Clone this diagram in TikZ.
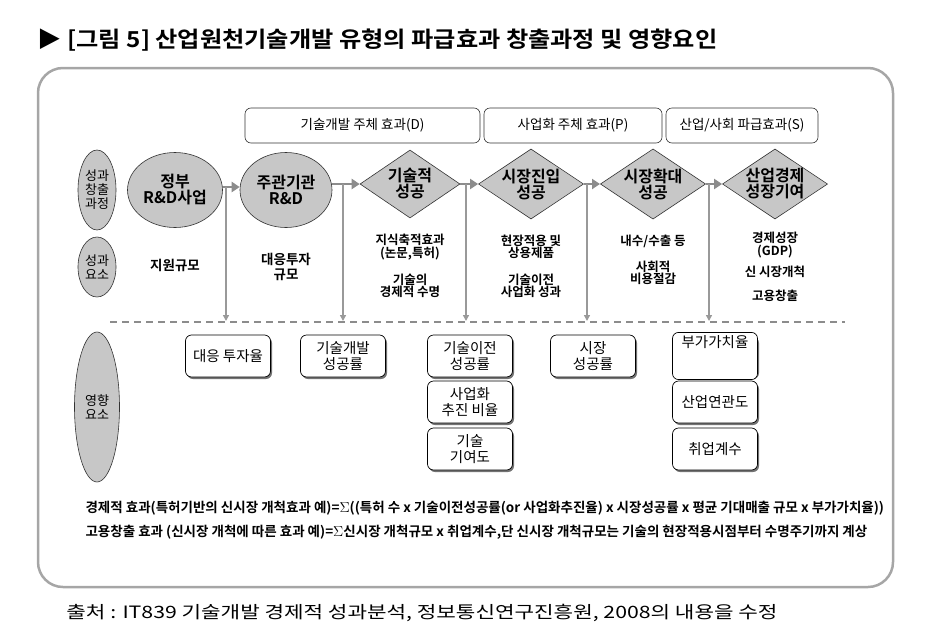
\documentclass[tikz,border=0pt]{standalone}
\usepackage{fontspec}
\setmainfont{Noto Sans CJK KR}
\newfontfamily\kb{Noto Sans CJK KR Bold}
\usetikzlibrary{shapes.geometric,arrows.meta}
\tikzset{
 gshape/.style={draw=black!80,fill=black!22,line width=0.6pt,align=center,font=\kb\fontsize{16}{16}\selectfont,inner sep=0pt},
 ell/.style={gshape,ellipse},
 dia/.style={gshape,diamond,aspect=1.5},
 hdr/.style={draw=black!80,rounded corners=6pt,line width=0.6pt,font=\fontsize{13.5}{13.5}\selectfont,minimum height=35pt},
 ibox/.style={draw=black,rounded corners=6pt,line width=0.7pt,fill=white,minimum width=85pt,minimum height=42pt,align=center,font=\fontsize{14.5}{15.5}\selectfont},
 shad/.style={fill=black!55,rounded corners=6pt,minimum width=85pt,minimum height=42pt},
 el/.style={font=\kb\fontsize{12.5}{12.5}\selectfont,align=center},
 garr/.style={draw=black!45,line width=2.2pt,-{Triangle[length=8pt,width=10pt]}},
 varr/.style={draw=black!40,line width=1.4pt,-{Triangle[length=6pt,width=6pt]}},
}
\begin{document}
\begin{tikzpicture}[x=1pt,y=-1pt]
\useasboundingbox (0,0) rectangle (926,640);
\node[anchor=west,font=\kb\fontsize{22}{22}\selectfont,xscale=1.1] (title) at (34,40) {▶ [그림 5] 산업원천기술개발 유형의 파급효과 창출과정 및 영향요인};
\draw[black!35,line width=2.5pt,rounded corners=25pt] (38,68) rectangle (893,587);
% headers
\node[hdr,minimum width=235pt] (hd) at (362.5,125.5) {기술개발 주체 효과(D)};
\node[hdr,minimum width=178pt] (hp) at (573,125.5) {사업화 주체 효과(P)};
\node[hdr,minimum width=152pt] (hs) at (742,125.5) {산업/사회 파급효과(S)};
% left labels
\node[ell,minimum width=38pt,minimum height=80pt,font=\fontsize{13}{14}\selectfont] (l1) at (97,190) {성과\\창출\\과정};
\node[ell,minimum width=38pt,minimum height=60pt,font=\fontsize{13}{14}\selectfont] (l2) at (97,267) {성과\\요소};
\node[ell,minimum width=45pt,minimum height=150pt,font=\fontsize{13}{14}\selectfont] (l3) at (97,407) {영향\\요소};
% process
\node[ell,minimum width=95pt,minimum height=75pt] (p1) at (175,190) {정부\\R\&D사업};
\node[ell,minimum width=92pt,minimum height=75pt] (p2) at (286,190) {주관기관\\R\&D};
\node[dia,minimum width=100pt,minimum height=68pt] (p3) at (410,184) {기술적\\성공};
\node[dia,minimum width=100pt,minimum height=68pt] (p4) at (531,184) {시장진입\\성공};
\node[dia,minimum width=100pt,minimum height=68pt] (p5) at (653,184) {시장확대\\성공};
\node[dia,minimum width=100pt,minimum height=68pt] (p6) at (775,184) {산업경제\\성장기여};
\draw[garr] (p1.east|-0,187) -- (p2.west|-0,187);
\draw[garr] (p2.east|-0,184) -- (p3.west);
\draw[garr] (p3.east) -- (p4.west);
\draw[garr] (p4.east) -- (p5.west);
\draw[garr] (p5.east) -- (p6.west);
% dashed line
\coordinate (dl) at (110,322); \coordinate (dr) at (845,322);
\draw[black!45,line width=1.6pt,dash pattern=on 7pt off 5pt] (dl) -- (dr);
\foreach \x/\y in {226/187,343/184,466/184,587/184,709/184}{
 \coordinate (vt\x) at (\x,\y); \coordinate (vb\x) at (\x,321);
 \draw[varr] (vt\x) -- (vb\x);}
% outcome texts
\node[el,font=\kb\fontsize{13.5}{13.5}\selectfont] (e1) at (175,265) {지원규모};
\node[el,font=\kb\fontsize{13.5}{14.5}\selectfont] (e2) at (286,267) {대응투자\\규모};
\node[el] (e3a) at (410,247) {지식축적효과\\(논문,특허)};
\node[el] (e3b) at (410,286) {기술의\\경제적 수명};
\node[el] (e4a) at (531,247) {현장적용 및\\상용제품};
\node[el] (e4b) at (531,286) {기술이전\\사업화 성과};
\node[el] (e5a) at (653,241) {내수/수출 등};
\node[el] (e5b) at (653,273) {사회적\\비용절감};
\node[el] (e6a) at (775,245) {경제성장\\(GDP)};
\node[el] (e6b) at (775,272) {신 시장개척};
\node[el] (e6c) at (775,296) {고용창출};
% influence boxes
\foreach \n/\x/\y/\t in {b1/228/356/{대응 투자율},b2/343/356/{기술개발\\성공률},b3/470/356/{기술이전\\성공률},b4/470/402/{사업화\\추진 비율},b5/470/449/{기술\\기여도},b6/593/356/{시장\\성공률},b7/715/356/{부가가치율\\[13pt]},b8/715/402/{\\[-4pt]산업연관도},b9/715/449/{\\[-4pt]취업계수}}{
 \node[shad] at (\x+1.5,\y+2) {};
 \node[ibox] (\n) at (\x,\y) {\t};}
% formulas
\node[anchor=west,font=\kb\fontsize{13.5}{13.5}\selectfont] (f1) at (82,508) {경제적 효과(특허기반의 신시장 개척효과 예)=$\Sigma$((특허 수 x 기술이전성공률(or 사업화추진율) x 시장성공률 x 평균 기대매출 규모 x 부가가치율))};
\node[anchor=west,font=\kb\fontsize{13.5}{13.5}\selectfont] (f2) at (82,532) {고용창출 효과 (신시장 개척에 따른 효과 예)=$\Sigma$신시장 개척규모 x 취업계수,단 신시장 개척규모는 기술의 현장적용시점부터 수명주기까지 계상};
\node[anchor=west,font=\fontsize{17}{17}\selectfont,xscale=1.25] (src) at (62,613) {출처 : IT839 기술개발 경제적 성과분석, 정보통신연구진흥원, 2008의 내용을 수정};
\end{tikzpicture}
\end{document}
